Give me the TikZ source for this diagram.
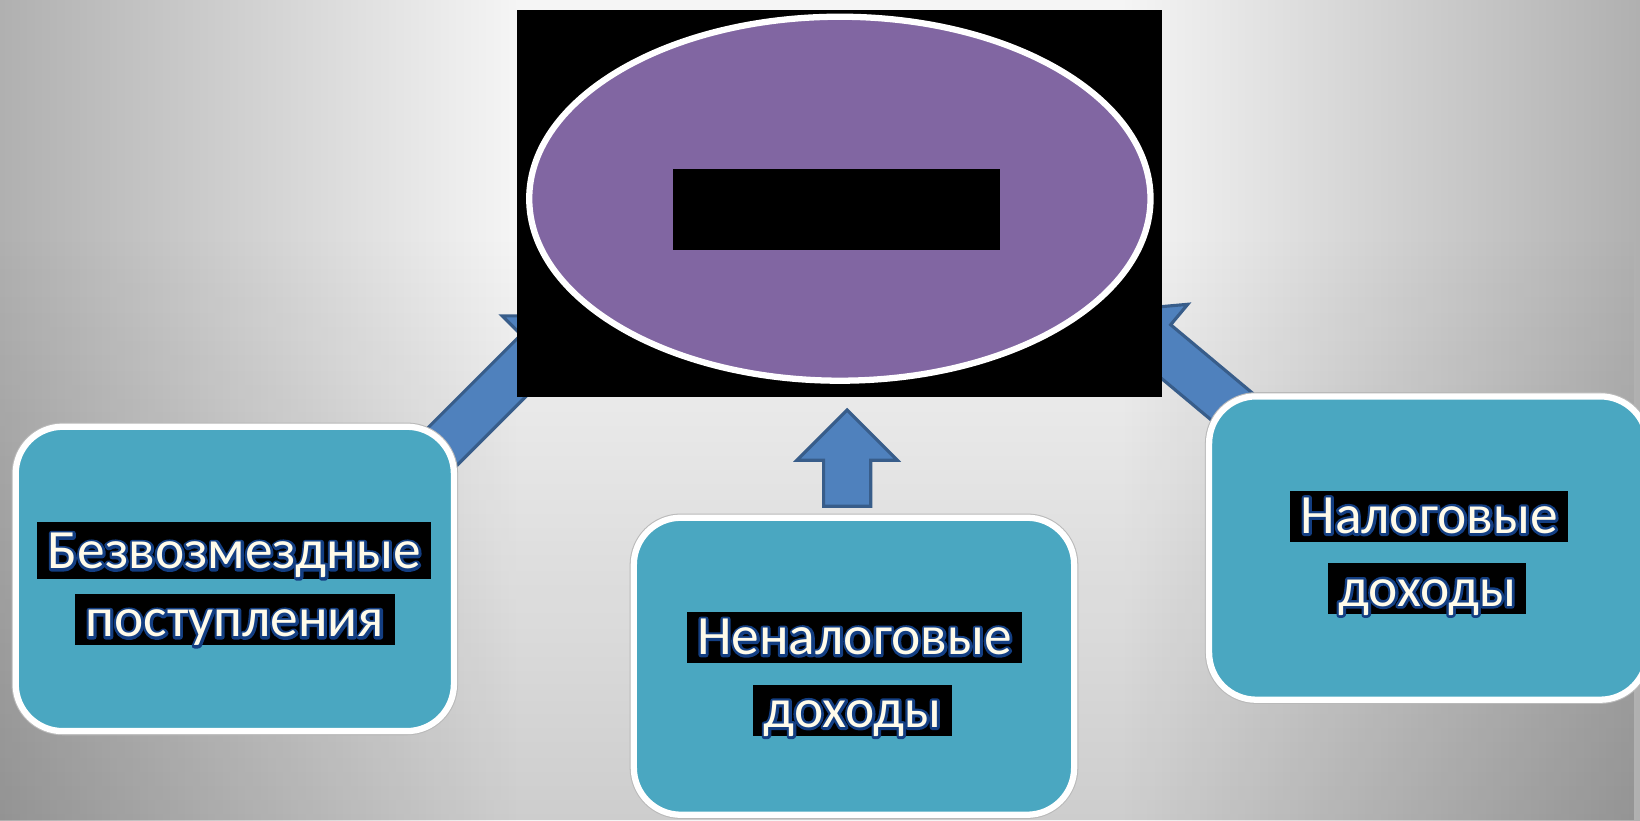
\documentclass[tikz,border=0pt]{standalone}
\usepackage{fontspec}
\setmainfont{Carlito}
\usetikzlibrary{calc,fadings,shapes.geometric}
\definecolor{boxblue}{HTML}{4AA7C1}
\definecolor{ovalviolet}{HTML}{8166A2}
\definecolor{arrowfill}{HTML}{4F81BD}
\definecolor{arrowline}{HTML}{385D8A}
\definecolor{textcream}{HTML}{FFFBEA}
\definecolor{textnavy}{HTML}{133E82}
\pgfdeclarehorizontalshading{bgshade}{100bp}{color(0bp)=(gray!62); color(25bp)=(gray!62); color(40.8bp)=(gray!8); color(59.2bp)=(gray!8); color(75bp)=(gray!62); color(100bp)=(gray!62)}
% chu vien: mot lop net (stroke) phia duoi, mot lop to (fill) phia tren
\newcommand{\outlined}[1]{\leavevmode\rlap{\color{textnavy}\special{pdf:literal direct 1 Tr 5 w 1 j}#1\special{pdf:literal direct 0 Tr}}#1}
\tikzset{
  srcbox/.style={rectangle, draw=white, line width=6pt, fill=boxblue, rounded corners=45pt, inner sep=0pt,
    preaction={draw=gray!55, line width=8pt}},
  lbl/.style={fill=black, text=textcream, inner xsep=10pt, inner ysep=0pt, text height=41pt, text depth=8pt, font=\fontsize{53}{62}\selectfont},
  bigarrow/.style={fill=arrowfill, draw=arrowline, line width=3pt, line join=miter},
}
% block arrow from #1 (tail) to #2 (tip)
\newcommand{\blockarrow}[2]{%
  \filldraw[bigarrow] let \p1=($(#2)-(#1)$), \n1={atan2(\y1,\x1)}, \n2={veclen(\x1,\y1)} in
    ($(#1)+(\n1+90:22.5pt)$) -- ($(#1)+(\n1:\n2-48pt)+(\n1+90:22.5pt)$)
    -- ($(#1)+(\n1:\n2-48pt)+(\n1+90:48pt)$) -- (#2)
    -- ($(#1)+(\n1:\n2-48pt)+(\n1-90:48pt)$) -- ($(#1)+(\n1:\n2-48pt)+(\n1-90:22.5pt)$)
    -- ($(#1)+(\n1-90:22.5pt)$) -- cycle;}
\begin{document}
\begin{tikzpicture}[x=1pt, y=1pt, line join=round]
\def\W{1568} \def\H{784}
\useasboundingbox (0,0) rectangle (\W,\H);
\clip (0,0) rectangle (\W,\H);
% nen
\shade[shading=bgshade] (0,0) rectangle (\W,\H);
\fill[black, fill opacity=.16, path fading=north] (0,0) rectangle (\W,560);
% mui ten
\coordinate (lt) at (380,314); \coordinate (lh) at (548,482);
\coordinate (mt) at (810,300); \coordinate (mh) at (810,392);
\coordinate (rt) at (1220,360); \coordinate (rh) at (1068,487);
\blockarrow{lt}{lh}
\blockarrow{mt}{mh}
\blockarrow{rt}{rh}
% khoi trung tam
\node[fill=black, minimum width=617, minimum height=370, inner sep=0pt] (goal) at (802.5,589) {};
\node[ellipse, draw=white, line width=6pt, fill=ovalviolet, minimum width=594, minimum height=348, inner sep=0pt] (oval) at (803,594) {};
\node[fill=black, minimum width=313, minimum height=77, inner sep=0pt] (title) at (799.5,583.5) {};
% cac khoi nguon
\node[srcbox, minimum width=419, minimum height=291] (free) at (224.5,230.5) {};
\node[srcbox, minimum width=421, minimum height=284] (nontax) at (816.5,147) {};
\node[srcbox, minimum width=419, minimum height=290] (tax) at (1365.5,260) {};
\node[lbl, text height=45pt, text depth=10pt] (free1) at (224,257.5) {\outlined{Безвозмездные}};
\node[lbl] (free2) at (224.5,191.5) {\outlined{поступления}};
\node[lbl] (nontax1) at (817,174.5) {\outlined{Неналоговые}};
\node[lbl] (nontax2) at (815,105) {\outlined{доходы}};
\node[lbl] (tax1) at (1366.5,290.5) {\outlined{Налоговые}};
\node[lbl] (tax2) at (1364.5,221) {\outlined{доходы}};
\end{tikzpicture}
\end{document}
